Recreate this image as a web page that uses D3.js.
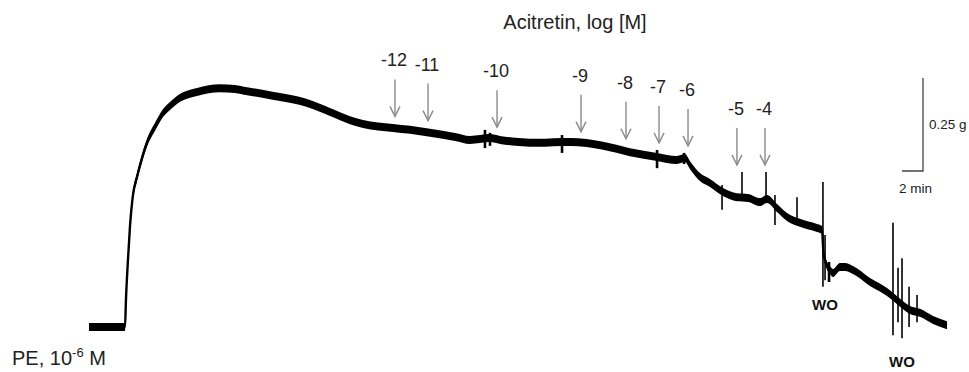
<!DOCTYPE html>
<html>
<head>
<meta charset="utf-8">
<script src="https://cdn.jsdelivr.net/npm/d3@7"></script>
<style>
  html, body { margin: 0; padding: 0; background: #fff; }
  svg { display: block; font-family: "Liberation Sans", Arial, sans-serif; }
</style>
</head>
<body>
<svg id="chart" width="969" height="372"></svg>
<script>
// Isometric tension recording: PE pre-contraction, cumulative acitretin, washouts.
// Time in minutes from start of recording, tension in grams above baseline.
const traceTime = [0, 3.43, 3.52, 3.71, 3.90, 4.19, 4.57, 5.05, 5.52, 6.29, 7.05, 7.90, 8.67,
  10.29, 12.48, 13.90, 15.05, 16.76, 18.19, 20.76, 22.95, 24.86, 26.10, 28.95, 30.57, 32.48,
  34.86, 36.29, 38.19, 39.14, 42.67, 45.81, 48.95, 51.52, 54.10, 56.00, 56.76, 57.24, 58.19,
  59.14, 60.38, 61.71, 62.76, 63.90, 64.57, 65.52, 66.48, 67.71, 69.33, 69.81, 69.95, 70.19,
  70.57, 70.86, 71.52, 72.00, 72.76, 74.38, 76.00, 76.57, 77.24, 78.19, 79.14, 80.38, 81.71];
const traceTension = [0, 0, 0.073, 0.180, 0.269, 0.355, 0.403, 0.454, 0.495, 0.538, 0.575, 0.599, 0.616,
  0.632, 0.642, 0.640, 0.634, 0.626, 0.618, 0.602, 0.578, 0.556, 0.546, 0.535, 0.530, 0.522,
  0.511, 0.503, 0.508, 0.503, 0.495, 0.497, 0.487, 0.470, 0.457, 0.449, 0.454, 0.435, 0.403,
  0.387, 0.363, 0.349, 0.347, 0.336, 0.344, 0.320, 0.296, 0.280, 0.266, 0.261, 0.200, 0.172,
  0.153, 0.145, 0.161, 0.161, 0.153, 0.121, 0.094, 0.081, 0.065, 0.046, 0.038, 0.019, 0.005];

// Brief artefacts (drug additions, bath changes): time, upper and lower excursion in g
const spikeTime   = [37.71, 38.19, 45.05, 54.10, 56.67, 60.29, 62.19, 64.48, 65.33, 67.43,
  69.90, 70.10, 70.48, 76.57, 77.05, 77.43, 78.10, 78.86];
const spikeTop    = [0.530, 0.522, 0.516, 0.476, 0.468, 0.382, 0.417, 0.417, 0.355, 0.349,
  0.390, 0.247, 0.175, 0.280, 0.159, 0.185, 0.108, 0.086];
const spikeBottom = [0.481, 0.487, 0.468, 0.427, 0.438, 0.315, 0.341, 0.341, 0.274, 0.282,
  0.108, 0.126, 0.121, -0.022, 0.013, -0.030, 0.000, 0.013];

// Cumulative acitretin additions, log [M]
const doseLabels = ["-12", "-11", "-10", "-9", "-8", "-7", "-6", "-5", "-4"];
const doseTimes  = [29.14, 32.29, 38.86, 46.86, 51.14, 54.29, 57.05, 61.71, 64.38];

// Washouts
const washLabels = ["WO", "WO"];
const washTimes  = [69.90, 77.24];

// Calibration bar
const barTension = 0.25;
const barMinutes = 2;

const svg = d3.select("#chart");

const x = d3.scaleLinear().domain([0, 82]).range([89, 89 + 82 * 10.5]);
const y = d3.scaleLinear().domain([0, 0.7]).range([327, 327 - 0.7 * 372]);

const trace = traceTime.map((t, i) => ({ t, g: traceTension[i] }));
const spikes = spikeTime.map((t, i) => ({ t, top: spikeTop[i], bottom: spikeBottom[i] }));

// Recording noise: a band of constant vertical thickness around the signal
const halfBand = 4;
svg.append("path")
  .datum(trace)
  .attr("fill", "#000")
  .attr("d", d3.area()
    .curve(d3.curveMonotoneX)
    .x(d => x(d.t))
    .y0(d => y(d.g) + halfBand)
    .y1(d => y(d.g) - halfBand));

svg.append("path")
  .datum(trace)
  .attr("fill", "none")
  .attr("stroke", "#000")
  .attr("stroke-width", 2.4)
  .attr("stroke-linejoin", "round")
  .attr("d", d3.line().curve(d3.curveMonotoneX).x(d => x(d.t)).y(d => y(d.g)));

svg.append("g").selectAll("line")
  .data(spikes)
  .join("line")
  .attr("x1", d => x(d.t)).attr("x2", d => x(d.t))
  .attr("y1", d => y(d.top)).attr("y2", d => y(d.bottom))
  .attr("stroke", "#000")
  .attr("stroke-width", d => (d.top - d.bottom) < 0.06 ? 2.6 : 1.6);

// Dose arrows sit just above the local top of the trace
const traceAt = d3.scaleLinear().domain(traceTime).range(traceTension);
function localTop(t) {
  let top = y(traceAt(t)) - halfBand;
  for (let dt = -0.6; dt <= 0.6; dt += 0.1) top = Math.min(top, y(traceAt(t + dt)) - halfBand);
  spikes.forEach(s => { if (Math.abs(s.t - t) <= 0.6) top = Math.min(top, y(s.top)); });
  return top;
}
const arrowLen = 37, headW = 5, headH = 10, arrowColor = "#8a8a8a";
const doses = doseTimes.map((t, i) => {
  const tip = localTop(t) - 7;
  return { t, label: doseLabels[i], tip, tail: tip - arrowLen };
});
const ag = svg.append("g").attr("stroke", arrowColor).attr("stroke-width", 1.4).attr("fill", "none");
doses.forEach(d => {
  const cx = x(d.t);
  ag.append("line").attr("x1", cx).attr("x2", cx).attr("y1", d.tail).attr("y2", d.tip);
  ag.append("path").attr("d", `M${cx - headW},${d.tip - headH}L${cx},${d.tip}L${cx + headW},${d.tip - headH}`);
});
svg.append("g").selectAll("text")
  .data(doses)
  .join("text")
  .attr("x", d => x(d.t) - 1)
  .attr("y", d => d.tail - 13)
  .attr("text-anchor", "middle")
  .attr("font-size", 18)
  .attr("fill", "#222")
  .text(d => d.label);

// Titles
svg.append("text")
  .attr("x", 575).attr("y", 29)
  .attr("text-anchor", "middle")
  .attr("font-size", 20)
  .attr("fill", "#222")
  .text("Acitretin, log [M]");

const pe = svg.append("text")
  .attr("x", 12).attr("y", 365)
  .attr("font-size", 20)
  .attr("fill", "#222");
pe.append("tspan").text("PE, 10");
pe.append("tspan").attr("font-size", 13).attr("dy", -8).text("-6");
pe.append("tspan").attr("dy", 8).text(" M");

// Washout labels
svg.append("g").selectAll("text")
  .data(washTimes.map((t, i) => ({ t, label: washLabels[i] })))
  .join("text")
  .attr("x", d => x(d.t) + 2)
  .attr("y", (d, i) => i === 0 ? 310 : 367)
  .attr("text-anchor", "middle")
  .attr("font-size", 15)
  .attr("font-weight", "bold")
  .attr("fill", "#111")
  .text(d => d.label);

// Calibration bar
const barX = 923, barY = 171;
const barH = y(0) - y(barTension);
const barW = x(barMinutes) - x(0);
svg.append("path")
  .attr("d", `M${barX},${barY - barH}V${barY}H${barX - barW}`)
  .attr("fill", "none")
  .attr("stroke", "#444")
  .attr("stroke-width", 1.3);
svg.append("text")
  .attr("x", barX + 6).attr("y", barY - barH / 2 + 4)
  .attr("font-size", 13.5).attr("fill", "#222")
  .text(barTension + " g");
svg.append("text")
  .attr("x", barX - barW / 2 + 3).attr("y", barY + 22)
  .attr("text-anchor", "middle")
  .attr("font-size", 13.5).attr("fill", "#222")
  .text(barMinutes + " min");
</script>
</body>
</html>
